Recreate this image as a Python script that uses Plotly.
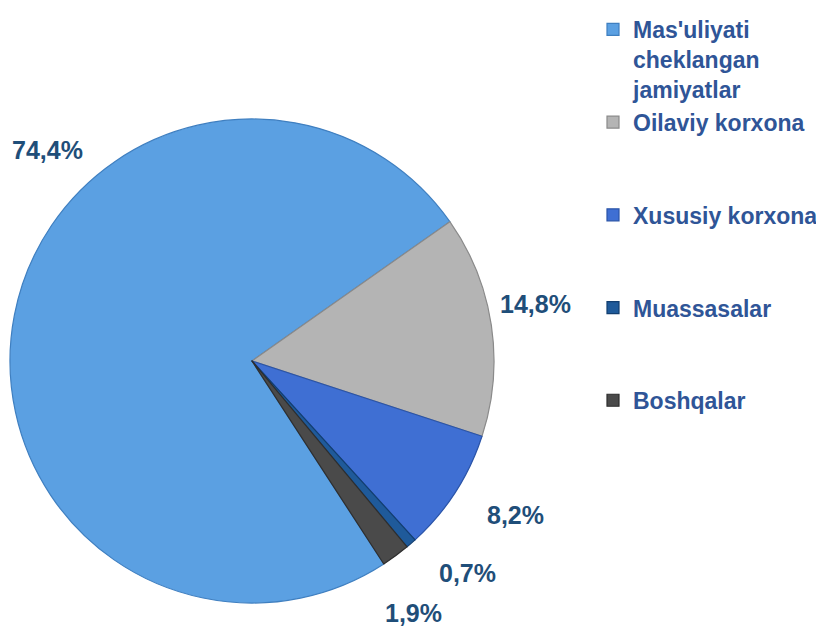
import plotly.graph_objects as go

categories = ["Mas'uliyati<br>cheklangan<br>jamiyatlar", "Oilaviy korxona", "Xususiy korxona", "Muassasalar", "Boshqalar"]
values = [74.4, 14.8, 8.2, 0.7, 1.9]
value_labels = ["74,4%", "14,8%", "8,2%", "0,7%", "1,9%"]
colors = ["#5BA0E2", "#B4B4B4", "#3F6FD3", "#1F5A9A", "#4A4A4A"]
line_colors = ["#3F7FC0", "#8A8A8A", "#2A54A8", "#123E70", "#2E2E2E"]

# label anchor positions (pixels in the 824x626 page)
label_px = [(47, 150), (535, 304), (516, 515), (467, 573), (413, 613)]

W, H = 824, 626
OFF = 8  # page body margin offset


def fx(px):
    return (px - OFF) / W


def fy(py):
    return 1 - (py - OFF) / H


# pad single-line legend entries so all entries occupy three lines
legend_names = []
for c in categories:
    n = c.count("<br>")
    legend_names.append(c + "<br>&nbsp;" * (2 - n))

fig = go.Figure()
fig.add_trace(go.Pie(
    labels=legend_names,
    values=values,
    sort=False,
    direction="clockwise",
    rotation=147,
    marker=dict(colors=colors, line=dict(color=line_colors, width=1.2)),
    textinfo="none",
    hoverinfo="percent",
    domain=dict(x=[fx(10), fx(494)], y=[fy(603), fy(119)]),
))

for (px, py), t in zip(label_px, value_labels):
    fig.add_annotation(
        x=fx(px), y=fy(py), xref="paper", yref="paper",
        text="<b>" + t + "</b>", showarrow=False,
        xanchor="center", yanchor="middle",
        font=dict(family="Liberation Sans, Arial", size=25, color="#1F4E79"),
    )

fig.update_layout(
    width=W, height=H,
    margin=dict(l=0, r=0, t=0, b=0),
    paper_bgcolor="white",
    plot_bgcolor="white",
    showlegend=True,
    legend=dict(
        x=fx(593), y=1, xanchor="left", yanchor="top",
        valign="top",
        font=dict(family="Liberation Sans, Arial", size=23, color="#2F5597", weight="bold"),
        bgcolor="rgba(0,0,0,0)",
        itemclick=False,
    ),
)

fig.write_html("out.html")
